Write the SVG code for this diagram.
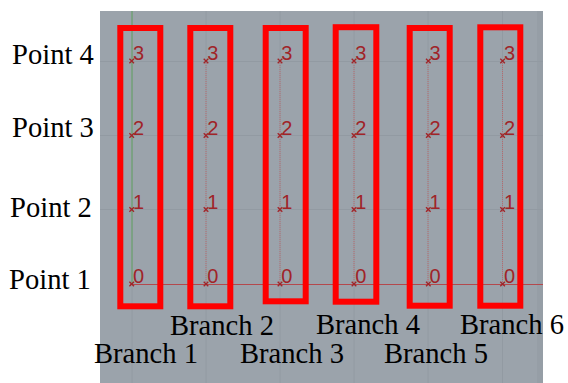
<svg xmlns="http://www.w3.org/2000/svg" width="568" height="383" viewBox="0 0 568 383">
  <style>
    .lbl { font-family: "Liberation Serif", "Times New Roman", serif; font-size: 28.6px; fill: #000; }
    .num { font-family: "Liberation Sans", Arial, sans-serif; font-size: 20px; fill: #a02428; }
    .box { fill: none; stroke: #ff0000; stroke-width: 6; }
    .grid { stroke: #929aa2; stroke-width: 1; }
    .mark { stroke: #a02428; stroke-width: 1.3; fill: none; }
    .branch { stroke: #b86a6e; stroke-width: 1; stroke-dasharray: 1 1; fill: none; }
  </style>
  <defs>
    <g id="pt">
      <path class="mark" d="M-2.3,-2.3 L2.3,2.3 M-2.3,2.3 L2.3,-2.3"/>
    </g>
  </defs>

  <rect width="568" height="383" fill="#ffffff"/>
  <!-- viewport -->
  <rect x="100" y="11" width="443" height="372" fill="#9ba3ab"/>
  <rect x="537" y="11" width="6" height="372" fill="#969ea6"/>

  <!-- grid -->
  <g id="grid">
    <path class="grid" d="M100,61.5 H543 M100,135.5 H543 M100,209.5 H543
      M206,11 V383 M280,11 V383 M354,11 V383 M428,11 V383 M502.5,11 V383 M132,284 V383"/>
    <path d="M132,11 V284" stroke="#5c9e5c" stroke-width="1"/>
    <path d="M130,284.5 H543" stroke="#b4484c" stroke-width="1"/>
  </g>

  <!-- branch polylines -->
  <g id="connectors">
    <path class="branch" d="M206,61 V284"/>
    <path class="branch" d="M280,61 V284"/>
    <path class="branch" d="M354,61 V284"/>
    <path class="branch" d="M428,61 V284"/>
    <path class="branch" d="M502.5,61 V284"/>
  </g>

  <g id="branch1">
    <rect class="box" x="120.3" y="28" width="40" height="278.3"/>
    <use href="#pt" x="131.7" y="284"/><text class="num" x="133" y="283">0</text>
    <use href="#pt" x="131.7" y="209.5"/><text class="num" x="133" y="208.5">1</text>
    <use href="#pt" x="131.7" y="135.5"/><text class="num" x="133" y="134.5">2</text>
    <use href="#pt" x="131.7" y="61"/><text class="num" x="133" y="60">3</text>
  </g>
  <g id="branch2">
    <rect class="box" x="190.3" y="28" width="40" height="278.3"/>
    <use href="#pt" x="206" y="284"/><text class="num" x="207.3" y="283">0</text>
    <use href="#pt" x="206" y="209.5"/><text class="num" x="207.3" y="208.5">1</text>
    <use href="#pt" x="206" y="135.5"/><text class="num" x="207.3" y="134.5">2</text>
    <use href="#pt" x="206" y="61"/><text class="num" x="207.3" y="60">3</text>
  </g>
  <g id="branch3">
    <rect class="box" x="265.7" y="28" width="40" height="273.3"/>
    <use href="#pt" x="280" y="284"/><text class="num" x="281.3" y="283">0</text>
    <use href="#pt" x="280" y="209.5"/><text class="num" x="281.3" y="208.5">1</text>
    <use href="#pt" x="280" y="135.5"/><text class="num" x="281.3" y="134.5">2</text>
    <use href="#pt" x="280" y="61"/><text class="num" x="281.3" y="60">3</text>
  </g>
  <g id="branch4">
    <rect class="box" x="335.7" y="27.2" width="40.6" height="274.5"/>
    <use href="#pt" x="354" y="284"/><text class="num" x="355.3" y="283">0</text>
    <use href="#pt" x="354" y="209.5"/><text class="num" x="355.3" y="208.5">1</text>
    <use href="#pt" x="354" y="135.5"/><text class="num" x="355.3" y="134.5">2</text>
    <use href="#pt" x="354" y="61"/><text class="num" x="355.3" y="60">3</text>
  </g>
  <g id="branch5">
    <rect class="box" x="409.7" y="28" width="40" height="277.7"/>
    <use href="#pt" x="428.3" y="284"/><text class="num" x="429.6" y="283">0</text>
    <use href="#pt" x="428.3" y="209.5"/><text class="num" x="429.6" y="208.5">1</text>
    <use href="#pt" x="428.3" y="135.5"/><text class="num" x="429.6" y="134.5">2</text>
    <use href="#pt" x="428.3" y="61"/><text class="num" x="429.6" y="60">3</text>
  </g>
  <g id="branch6">
    <rect class="box" x="480.3" y="27.3" width="40" height="278.4"/>
    <use href="#pt" x="502.6" y="284"/><text class="num" x="503.9" y="283">0</text>
    <use href="#pt" x="502.6" y="209.5"/><text class="num" x="503.9" y="208.5">1</text>
    <use href="#pt" x="502.6" y="135.5"/><text class="num" x="503.9" y="134.5">2</text>
    <use href="#pt" x="502.6" y="61"/><text class="num" x="503.9" y="60">3</text>
  </g>

  <!-- row labels -->
  <g id="point4"><text class="lbl" x="12" y="64">Point 4</text></g>
  <g id="point3"><text class="lbl" x="12" y="137">Point 3</text></g>
  <g id="point2"><text class="lbl" x="10" y="217">Point 2</text></g>
  <g id="point1"><text class="lbl" x="9" y="289">Point 1</text></g>

  <!-- column labels -->
  <g id="label-branch1"><text class="lbl" x="94" y="363">Branch 1</text></g>
  <g id="label-branch2"><text class="lbl" x="170" y="335">Branch 2</text></g>
  <g id="label-branch3"><text class="lbl" x="240" y="363">Branch 3</text></g>
  <g id="label-branch4"><text class="lbl" x="316" y="334">Branch 4</text></g>
  <g id="label-branch5"><text class="lbl" x="384" y="363">Branch 5</text></g>
  <g id="label-branch6"><text class="lbl" x="460" y="334">Branch 6</text></g>
</svg>
